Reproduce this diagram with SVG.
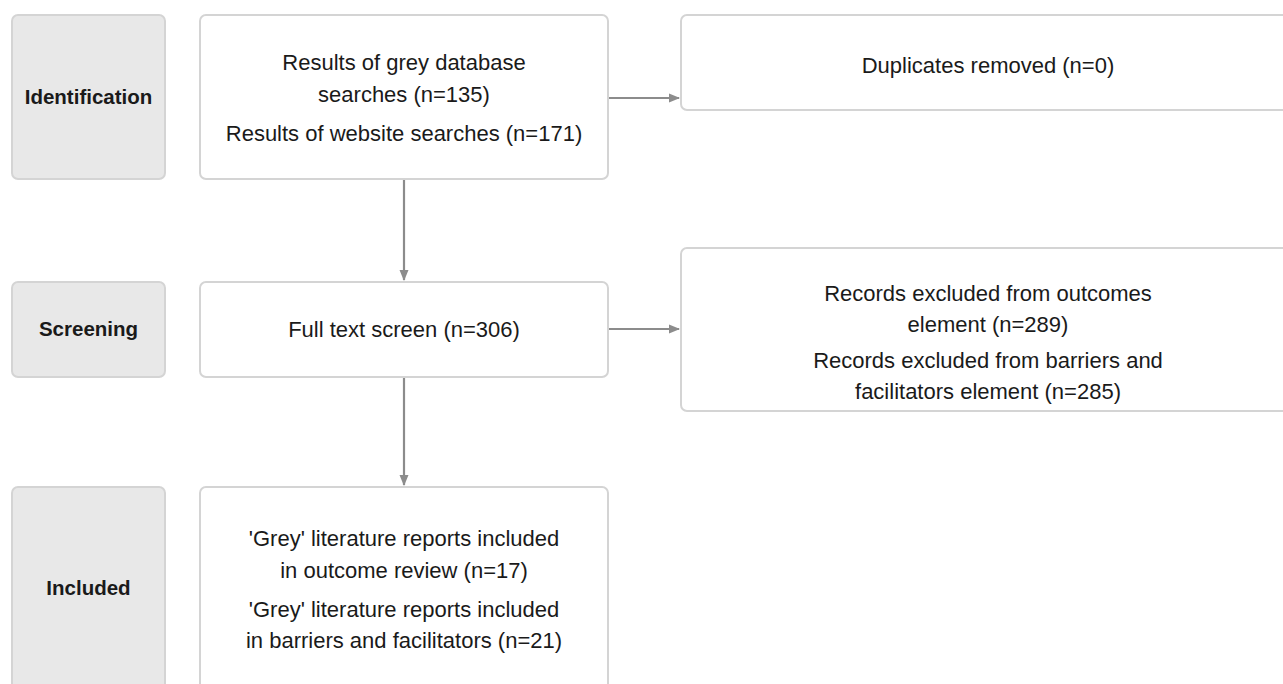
<svg xmlns="http://www.w3.org/2000/svg" width="1283" height="684" viewBox="0 0 1283 684">
<defs>
<style>
.side{fill:#e8e8e8;stroke:#d4d4d4;stroke-width:2}
.box{fill:#ffffff;stroke:#d4d4d4;stroke-width:2}
.lbl{font-family:"Liberation Sans",Arial,sans-serif;font-size:20.5px;font-weight:bold;fill:#1a1a1a;text-anchor:middle}
.t{font-family:"Liberation Sans",Arial,sans-serif;font-size:22px;fill:#1a1a1a;text-anchor:middle}
.c{stroke:#8c8c8c;stroke-width:2.2;fill:none}
</style>
<marker id="ah" markerWidth="12" markerHeight="12" refX="10" refY="6" orient="auto" markerUnits="userSpaceOnUse">
<path d="M0,1.5 L11,6 L0,10.5 z" fill="#8c8c8c"/>
</marker>
</defs>
<rect width="1283" height="684" fill="#ffffff"/>
<g id="connectors">
<line class="c" x1="404" y1="180" x2="404" y2="280" marker-end="url(#ah)"/>
<line class="c" x1="404" y1="378" x2="404" y2="485" marker-end="url(#ah)"/>
<line class="c" x1="609" y1="98" x2="679" y2="98" marker-end="url(#ah)"/>
<line class="c" x1="609" y1="329" x2="679" y2="329" marker-end="url(#ah)"/>
</g>
<g id="stage-identification">
<rect class="side" x="12" y="15" width="153" height="164" rx="6"/>
<text class="lbl" x="88.5" y="104">Identification</text>
</g>
<g id="stage-screening">
<rect class="side" x="12" y="282" width="153" height="95" rx="6"/>
<text class="lbl" x="88.5" y="336">Screening</text>
</g>
<g id="stage-included">
<rect class="side" x="12" y="487" width="153" height="210" rx="6"/>
<text class="lbl" x="88.5" y="595">Included</text>
</g>
<g id="node-search">
<rect class="box" x="200" y="15" width="408" height="164" rx="6"/>
<text class="t" x="404" y="70">Results of grey database</text>
<text class="t" x="404" y="102">searches (n=135)</text>
<text class="t" x="404" y="141">Results of website searches (n=171)</text>
</g>
<g id="node-duplicates">
<rect class="box" x="681" y="15" width="620" height="95" rx="6"/>
<text class="t" x="988" y="73">Duplicates removed (n=0)</text>
</g>
<g id="node-screen">
<rect class="box" x="200" y="282" width="408" height="95" rx="6"/>
<text class="t" x="404" y="337">Full text screen (n=306)</text>
</g>
<g id="node-excluded">
<rect class="box" x="681" y="248" width="620" height="163" rx="6"/>
<text class="t" x="988" y="301">Records excluded from outcomes</text>
<text class="t" x="988" y="332">element (n=289)</text>
<text class="t" x="988" y="368">Records excluded from barriers and</text>
<text class="t" x="988" y="399">facilitators element (n=285)</text>
</g>
<g id="node-included">
<rect class="box" x="200" y="487" width="408" height="210" rx="6"/>
<text class="t" x="404" y="546">'Grey' literature reports included</text>
<text class="t" x="404" y="578">in outcome review (n=17)</text>
<text class="t" x="404" y="617">'Grey' literature reports included</text>
<text class="t" x="404" y="648">in barriers and facilitators (n=21)</text>
</g>
</svg>
